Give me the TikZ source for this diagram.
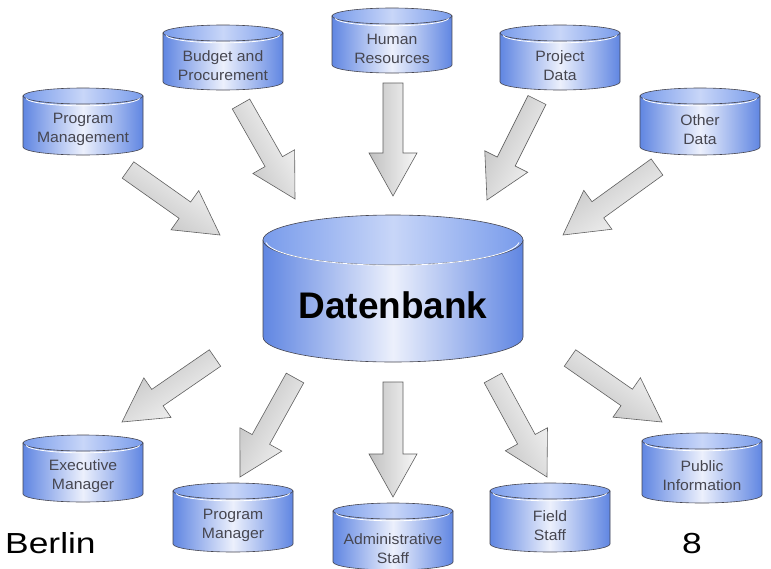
\documentclass[tikz,border=0pt]{standalone}
\usepackage{fontspec}
\setmainfont{Liberation Sans}
\newfontfamily\lblfont[FakeStretch=1.05]{Liberation Sans}
\newfontfamily\bigfont[FakeStretch=1.22]{Liberation Sans}
\usetikzlibrary{calc}
\definecolor{cylB}{RGB}{96,134,226}
\definecolor{cylL}{RGB}{236,240,252}
\definecolor{cylT}{RGB}{120,155,235}
\definecolor{cylTL}{RGB}{200,214,248}
\definecolor{cylline}{RGB}{70,70,80}
\definecolor{lbl}{RGB}{70,70,80}
\definecolor{arrA}{RGB}{248,248,248}
\definecolor{arrB}{RGB}{192,192,192}
\tikzset{
  cylbody/.style={draw=cylline, line width=0.6pt, left color=cylB, right color=cylB, middle color=cylL},
  cyltop/.style={draw=cylline, line width=0.6pt, left color=cylT, right color=cylT, middle color=cylTL},
  cyllabel/.style={font=\lblfont\fontsize{15}{19}\selectfont, text=lbl, align=center, inner sep=0pt},
  barrow/.style={draw=gray!75!black, line width=0.6pt, left color=arrA, right color=arrB},
}
% #1 name, #2 cx, #3 top centre y, #4 bottom centre y, #5 rx, #6 ry, #7 node options, #8 text
\newcommand\dbcyl[8]{%
  \path[cylbody] ({#2-#5},#3) -- ({#2-#5},#4)
     arc[start angle=180, end angle=360, x radius=#5, y radius=#6]
     -- ({#2+#5},#3) -- cycle;
  \path[cyltop] (#2,#3) ellipse[x radius=#5, y radius=#6];
  \draw[white, line width=0.8pt] ($(#2,#3)+({-#5+3},-2.5)$)
     arc[start angle=185, end angle=355, x radius={#5-3}, y radius=#6];
  \node[cyllabel, #7] (#1) at (#2, {(#3+#4)/2 - #6}) {#8};
}
% #1 start coordinate, #2 tip coordinate, #3 shading angle (arrow direction)
\newcommand\blockarrow[3]{%
  \coordinate (#1-h) at ($(#2)!43pt!(#1)$);
  \path[barrow, shading angle=#3]
    ($(#1)!10pt!90:(#2)$) -- ($(#1-h)!10pt!90:(#2)$) -- ($(#1-h)!24pt!90:(#2)$)
    -- (#2)
    -- ($(#1-h)!24pt!-90:(#2)$) -- ($(#1-h)!10pt!-90:(#2)$) -- ($(#1)!10pt!-90:(#2)$) -- cycle;
}
\begin{document}
\begin{tikzpicture}[x=1pt, y=1pt]
\useasboundingbox (0,0) rectangle (771,-568);
\fill[white] (0,0) rectangle (771,-568);

% arrows
\coordinate (s1) at (128,-170); \coordinate (t1) at (220,-235);
\coordinate (s2) at (241,-104); \coordinate (t2) at (295,-199);
\coordinate (s3) at (393,-83);  \coordinate (t3) at (393,-196);
\coordinate (s4) at (537,-100); \coordinate (t4) at (487,-200);
\coordinate (s5) at (657,-167); \coordinate (t5) at (563,-235);
\coordinate (s6) at (215,-358); \coordinate (t6) at (122,-422);
\coordinate (s7) at (295,-378); \coordinate (t7) at (240,-477);
\coordinate (s8) at (393,-382); \coordinate (t8) at (393,-497);
\coordinate (s9) at (493,-378); \coordinate (t9) at (547,-477);
\coordinate (s10) at (570,-358); \coordinate (t10) at (662,-422);

% cylinders
\dbcyl{pm}{83}{-96}{-147}{60}{8}{}{Program\\Management}
\dbcyl{bp}{223}{-33}{-82}{60}{8}{}{Budget and\\Procurement}
\dbcyl{hr}{392}{-16}{-65}{60}{8}{}{Human\\Resources}
\dbcyl{pd}{560}{-33}{-82}{60}{8}{}{Project\\Data}
\dbcyl{od}{700}{-96}{-147}{60}{8}{}{Other\\Data}

\dbcyl{db}{393}{-240}{-337}{130}{25}{yshift=8pt, font=\bfseries\fontsize{37}{40}\selectfont, text=black}{Datenbank}

\dbcyl{em}{83}{-443}{-494}{60}{8}{}{Executive\\Manager}
\dbcyl{pmg}{233}{-491}{-544}{60}{8}{}{Program\\Manager}
\dbcyl{as}{393}{-511}{-562}{60}{8}{yshift=-4pt}{Administrative\\Staff}
\dbcyl{fs}{550}{-491}{-544}{60}{8}{}{Field\\Staff}
\dbcyl{pi}{702}{-441}{-495}{60}{8}{}{Public\\Information}

\blockarrow{s1}{t1}{-35}
\blockarrow{s2}{t2}{-60}
\blockarrow{s3}{t3}{-90}
\blockarrow{s4}{t4}{-117}
\blockarrow{s5}{t5}{-144}
\blockarrow{s6}{t6}{-146}
\blockarrow{s7}{t7}{-119}
\blockarrow{s8}{t8}{-90}
\blockarrow{s9}{t9}{-61}
\blockarrow{s10}{t10}{-35}

\node[anchor=base west, inner sep=0pt, font=\bigfont\fontsize{29}{32}\selectfont] (berlin) at (5,-553) {Berlin};
\node[anchor=base west, inner sep=0pt, font=\bigfont\fontsize{29}{32}\selectfont] (page) at (682,-553) {8};
\end{tikzpicture}
\end{document}
